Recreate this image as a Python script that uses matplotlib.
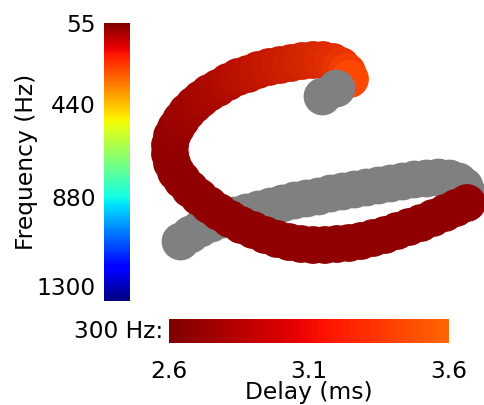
import numpy as np
import matplotlib
matplotlib.use("Agg")
import matplotlib.pyplot as plt
from matplotlib.colors import Normalize, ListedColormap, LinearSegmentedColormap
from matplotlib.cm import ScalarMappable

# trajectory (x, y in picture pixels)
# first stretch has no delay value -> drawn gray
gray_x = [180, 190, 200, 211, 222, 234, 246, 258, 270, 282, 294, 306, 318, 330,
          342, 354, 366, 378, 390, 402, 414, 426, 438, 449, 458, 464, 467]
gray_y = [241, 234, 228, 223, 219, 215, 212, 209, 206, 203, 200, 198, 196, 193,
          191, 189, 187, 185, 183, 181, 179, 178, 177, 178, 181, 186, 193]

path_x = [467, 456, 445, 433, 421, 409, 397, 385, 373, 361, 349, 337, 325, 313,
          301, 289, 277, 265, 253, 241, 230, 219, 209, 199, 190, 182, 176, 172,
          170, 170, 172, 176, 181, 187, 194, 201, 209, 218, 228, 238, 248, 258,
          269, 280, 291, 302, 313, 323, 333, 341, 347, 350]
path_y = [203, 208, 213, 218, 223, 227, 231, 235, 238, 241, 243, 244, 245, 245,
          244, 242, 239, 235, 230, 225, 219, 212, 205, 197, 189, 180, 172, 163,
          154, 145, 136, 128, 120, 112, 105, 99, 93, 88, 82, 77, 74, 70,
          67, 65, 63, 61, 60, 60, 62, 66, 72, 79]
delay = [2.67] * 29 + [2.68, 2.69, 2.70, 2.72, 2.74, 2.76, 2.78, 2.80, 2.82, 2.85,
                       2.88, 2.91, 2.94, 2.97, 3.00, 3.03, 3.06, 3.09, 3.12, 3.16,
                       3.22, 3.30, 3.40]

tail_x = [336, 322]
tail_y = [88, 96]

freq_ticks = [55, 440, 880, 1300]
delay_ticks = [2.6, 3.1, 3.6]

plt.rcParams['font.family'] = 'DejaVu Sans'
fs = 16.8

fig = plt.figure(figsize=(4.84, 4.05), dpi=100)

# main drawing area in picture pixel units
ax = fig.add_axes([0, 0, 1, 1])
ax.set_xlim(0, 484)
ax.set_ylim(405, 0)
ax.axis('off')

delay_cmap = ListedColormap(plt.cm.jet(np.linspace(1.0, 0.8, 256)))
delay_norm = Normalize(2.6, 3.6)
# the marks come out a bit duller than the bar
mark_cmap = LinearSegmentedColormap.from_list('marks', [
    (0.0, (0.50, 0.00, 0.0)), (0.07, (0.57, 0.00, 0.0)), (0.20, (0.66, 0.03, 0.0)),
    (0.34, (0.76, 0.08, 0.0)), (0.46, (0.82, 0.14, 0.0)), (0.56, (0.88, 0.18, 0.0)),
    (0.80, (1.00, 0.28, 0.0)), (1.0, (1.00, 0.43, 0.0))])

size = 740
ax.scatter(gray_x, gray_y, s=size, color='#808080', linewidths=0, zorder=2)
ax.scatter(path_x, path_y, s=size, c=delay, cmap=mark_cmap, norm=delay_norm,
           linewidths=0, zorder=3)
ax.scatter(tail_x, tail_y, s=size, color='#808080', linewidths=0, zorder=4)

# frequency colorbar
cax = fig.add_axes([104 / 484, 1 - 301 / 405, 26 / 484, 278.5 / 405])
sm = ScalarMappable(norm=Normalize(55, 1372), cmap='jet_r')
cb = fig.colorbar(sm, cax=cax, ticks=freq_ticks)
cb.outline.set_visible(False)
cax.invert_yaxis()
cax.yaxis.set_ticks_position('left')
cax.yaxis.set_label_position('left')
cax.tick_params(length=0, pad=6, labelsize=fs)
cb.set_label('Frequency (Hz)', fontsize=fs, labelpad=-1)

# delay colorbar
dax = fig.add_axes([169 / 484, 1 - 343 / 405, 280 / 484, 24 / 405])
sm2 = ScalarMappable(norm=delay_norm, cmap=delay_cmap)
cb2 = fig.colorbar(sm2, cax=dax, orientation='horizontal', ticks=delay_ticks)
cb2.outline.set_visible(False)
dax.tick_params(length=0, pad=12, labelsize=fs)
cb2.set_label('Delay (ms)', fontsize=fs, labelpad=-1)

fig.text(163 / 484, 1 - 331 / 405, '300 Hz:', ha='right', va='center', fontsize=fs)

fig.savefig('out.png', dpi=100)
